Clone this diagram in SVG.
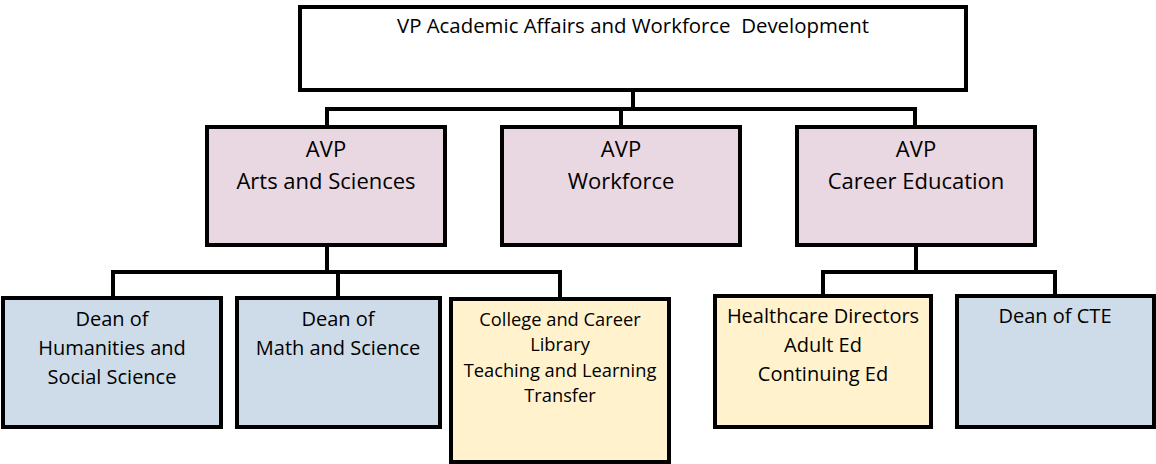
<svg xmlns="http://www.w3.org/2000/svg" width="1156" height="464" viewBox="0 0 1156 464">
<style>
.box{stroke:#000;stroke-width:4}
.vp{fill:#ffffff}
.avp{fill:#E9D7E1}
.dean{fill:#CDDCE8}
.other{fill:#FFF2CC}
.conn{fill:none;stroke:#000;stroke-width:4;stroke-linejoin:miter}
text{font-family:"Open Sans","Liberation Sans",sans-serif;fill:#000;text-anchor:middle}
.t1{font-size:20.4px}
.t2{font-size:22px}
.t3{font-size:20px}
.t4{font-size:18.3px}
</style>
<rect width="1156" height="464" fill="#ffffff"/>
<g id="connectors">
<path class="conn" d="M633 90 V109 M327 127 V109 H915 V127 M621 109 V127"/>
<path class="conn" d="M327 245 V272 M113 297 V272 H560 V297 M338 272 V297"/>
<path class="conn" d="M916 245 V272 M823 296 V272 H1055 V296"/>
</g>
<g id="vp">
<rect class="box vp" x="300" y="7" width="666" height="83"/>
<text class="t1" x="633" y="33" xml:space="preserve">VP Academic Affairs and Workforce  Development</text>
</g>
<g id="avp-arts">
<rect class="box avp" x="207" y="127" width="238" height="118"/>
<text class="t2" x="326" y="157">AVP</text>
<text class="t2" x="326" y="189">Arts and Sciences</text>
</g>
<g id="avp-workforce">
<rect class="box avp" x="502" y="127" width="238" height="118"/>
<text class="t2" x="621" y="157">AVP</text>
<text class="t2" x="621" y="189">Workforce</text>
</g>
<g id="avp-career">
<rect class="box avp" x="797" y="127" width="238" height="118"/>
<text class="t2" x="916" y="157">AVP</text>
<text class="t2" x="916" y="189">Career Education</text>
</g>
<g id="dean-humanities">
<rect class="box dean" x="3" y="298" width="218" height="129"/>
<text class="t3" x="112" y="326">Dean of</text>
<text class="t3" x="112" y="355">Humanities and</text>
<text class="t3" x="112" y="384">Social Science</text>
</g>
<g id="dean-math">
<rect class="box dean" x="237" y="298" width="203" height="129"/>
<text class="t3" x="338" y="326">Dean of</text>
<text class="t3" x="338" y="355">Math and Science</text>
</g>
<g id="college-career">
<rect class="box other" x="451" y="299" width="218" height="163"/>
<text class="t4" x="560" y="326">College and Career</text>
<text class="t4" x="560" y="351">Library</text>
<text class="t4" x="560" y="376.5">Teaching and Learning</text>
<text class="t4" x="560" y="401.5">Transfer</text>
</g>
<g id="healthcare">
<rect class="box other" x="715" y="296" width="216" height="131"/>
<text class="t3" x="823" y="323">Healthcare Directors</text>
<text class="t3" x="823" y="352">Adult Ed</text>
<text class="t3" x="823" y="381">Continuing Ed</text>
</g>
<g id="dean-cte">
<rect class="box dean" x="957" y="296" width="197" height="131"/>
<text class="t3" x="1055" y="323">Dean of CTE</text>
</g>
</svg>
